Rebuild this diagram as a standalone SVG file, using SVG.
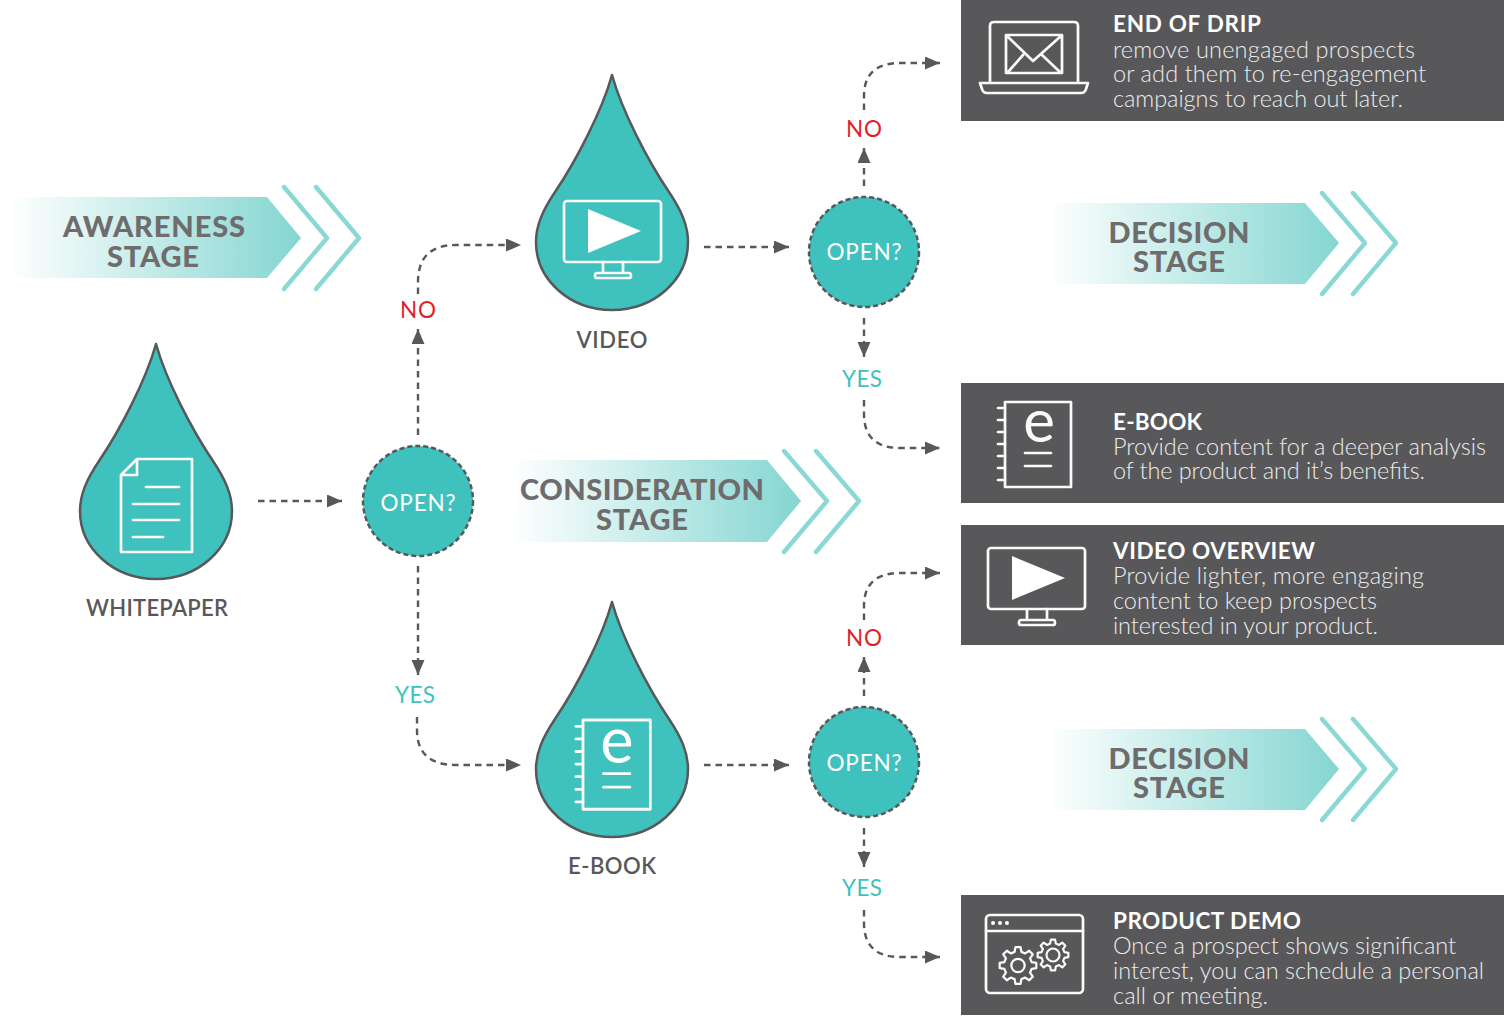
<svg xmlns="http://www.w3.org/2000/svg" width="1511" height="1023" viewBox="0 0 1511 1023">
<style>
text{font-family:Lato,"Liberation Sans",sans-serif}
.drop{fill:#3fc1bd;stroke:#58585a;stroke-width:2.5;stroke-linejoin:round}
.open{fill:#3fc1bd;stroke:#58585a;stroke-width:2.5;stroke-dasharray:5 3}
.opent{font-size:22.5px;fill:#fff;text-anchor:middle}
.lab{font-size:22px;font-weight:600;fill:#58585a;text-anchor:middle}
.no{font-size:22.5px;fill:#e01f2d;text-anchor:middle}
.yes{font-size:22.5px;fill:#3fc1bd;text-anchor:middle}
.panel{fill:#58585a}
.ptitle{font-size:22.5px;font-weight:700;fill:#fff}
.pbody{font-size:23.5px;font-weight:300;fill:#ececec}
.ban{font-size:29px;font-weight:900;fill:#6f6c6e;text-anchor:middle}
.chev{fill:none;stroke:#88d9d4;stroke-width:4.4;stroke-linecap:round;stroke-linejoin:round}
.icon{fill:none;stroke:#fafafa;stroke-width:2.7;stroke-linejoin:round;stroke-linecap:round}
.solid{fill:#fff;stroke:none}
.conn{fill:none;stroke:#58585a;stroke-width:2.4;stroke-dasharray:6.5 5;marker-end:url(#arr)}
</style>
<defs>
<marker id="arr" markerUnits="userSpaceOnUse" markerWidth="16" markerHeight="14" refX="15" refY="6.5" orient="auto"><path d="M0 0L15 6.5L0 13Z" fill="#58585a"/></marker>
<linearGradient id="g1"><stop offset="0" stop-color="#84d6d1" stop-opacity="0.01"/><stop offset="1" stop-color="#84d6d1"/></linearGradient>
<path id="dropshape" class="drop" d="M0 0C10 36 36 86 57 117C69 135 76 150 76 167C76 205 42 235 0 235C-42 235 -76 205 -76 167C-76 150 -69 135 -57 117C-36 86 -10 36 0 0Z"/>
<g id="mon"><rect class="icon" x="0" y="0" width="97" height="61" rx="3"/><path class="solid" d="M24 8V52L77 30Z"/><path class="icon" d="M39 61V72M59 61V72M33 72H65Q67 72 67 75Q67 77 65 77H33Q31 77 31 75Q31 72 33 72Z"/></g>
<g id="book"><rect class="icon" x="0" y="0" width="66" height="85"/><path class="icon" d="M-7 6H0M-7 18H0M-7 30H0M-7 42H0M-7 54H0M-7 66H0M-7 78H0M20 51H46M20 64H46"/></g>
<polygon id="gear" points="7.37,-1.84 9.9,-1.39 9.9,1.39 7.37,1.84 6.51,3.91 7.99,6.02 6.02,7.99 3.91,6.51 1.84,7.37 1.39,9.9 -1.39,9.9 -1.84,7.37 -3.91,6.51 -6.02,7.99 -7.99,6.02 -6.51,3.91 -7.37,1.84 -9.9,1.39 -9.9,-1.39 -7.37,-1.84 -6.51,-3.91 -7.99,-6.02 -6.02,-7.99 -3.91,-6.51 -1.84,-7.37 -1.39,-9.9 1.39,-9.9 1.84,-7.37 3.91,-6.51 6.02,-7.99 7.99,-6.02 6.51,-3.91"/>
</defs>
<g id="connectors">
<path class="conn" d="M258 501H342"/>
<path class="conn" d="M418 435V329"/>
<path class="conn" d="M418 294V282Q418 245 456 245H521"/>
<path class="conn" d="M418 566V675"/>
<path class="conn" d="M417 717V730Q417 765 456 765H521"/>
<path class="conn" d="M704 247H789"/>
<path class="conn" d="M704 765H789"/>
<path class="conn" d="M864 186V148"/>
<path class="conn" d="M864 110V96Q864 63 900 63H940"/>
<path class="conn" d="M864 318V357"/>
<path class="conn" d="M864 400V414Q864 448 900 448H940"/>
<path class="conn" d="M864 696V657"/>
<path class="conn" d="M864 620V606Q864 573 900 573H940"/>
<path class="conn" d="M864 828V867"/>
<path class="conn" d="M864 910V923Q864 957 900 957H940"/>
</g>
<g id="labels">
<text class="no" x="418" y="318" textLength="36">NO</text>
<text class="yes" x="415" y="703" textLength="40">YES</text>
<text class="no" x="864" y="137" textLength="36">NO</text>
<text class="yes" x="862" y="387" textLength="40">YES</text>
<text class="no" x="864" y="646" textLength="36">NO</text>
<text class="yes" x="862" y="896" textLength="40">YES</text>
</g>
<g id="stage-awareness">
<path fill="url(#g1)" d="M12 197H267L301 238L267 278H12Z"/>
<path class="chev" d="M284 187L327 238L284 289M316 187L359 238L316 289"/>
<text class="ban" x="154" y="237" textLength="182">AWARENESS</text>
<text class="ban" x="153" y="267" textLength="92">STAGE</text>
</g>
<g id="stage-consideration">
<path fill="url(#g1)" d="M515 460H767L801 501L767 542H515Z"/>
<path class="chev" d="M784 451L827 501L784 552M816 451L859 501L816 552"/>
<text class="ban" x="642" y="500" textLength="244">CONSIDERATION</text>
<text class="ban" x="642" y="530" textLength="92">STAGE</text>
</g>
<g id="stage-decision-1">
<path fill="url(#g1)" d="M1050 203H1305L1339 243L1305 284H1050Z"/>
<path class="chev" d="M1322 193L1365 243L1322 294M1353 193L1396 243L1353 294"/>
<text class="ban" x="1179" y="243" textLength="141">DECISION</text>
<text class="ban" x="1179" y="272" textLength="92">STAGE</text>
</g>
<g id="stage-decision-2">
<path fill="url(#g1)" d="M1050 729H1305L1339 769L1305 810H1050Z"/>
<path class="chev" d="M1322 719L1365 769L1322 820M1353 719L1396 769L1353 820"/>
<text class="ban" x="1179" y="769" textLength="141">DECISION</text>
<text class="ban" x="1179" y="798" textLength="92">STAGE</text>
</g>
<g id="whitepaper">
<use href="#dropshape" x="156" y="344"/>
<path class="icon" d="M137 459H192V552H121V475ZM137 459V475H121M146 487H179M133 504H179M133 520H179M133 537H163"/>
<text class="lab" x="157" y="616" textLength="142">WHITEPAPER</text>
</g>
<g id="video">
<use href="#dropshape" x="612" y="75"/>
<use href="#mon" x="564" y="201"/>
<text class="lab" x="612" y="348" textLength="71">VIDEO</text>
</g>
<g id="ebook">
<use href="#dropshape" x="612" y="602"/>
<g transform="translate(583 720) scale(1.02 1.05)"><use href="#book"/></g>
<text x="617" y="763" font-size="63" fill="#fff" text-anchor="middle">e</text>
<text class="lab" x="612" y="874" textLength="88">E-BOOK</text>
</g>
<g id="open-1"><circle class="open" cx="418" cy="501" r="55"/><text class="opent" x="418" y="511" textLength="75">OPEN?</text></g>
<g id="open-2"><circle class="open" cx="864" cy="252" r="55"/><text class="opent" x="864" y="260" textLength="75">OPEN?</text></g>
<g id="open-3"><circle class="open" cx="864" cy="762" r="55"/><text class="opent" x="864" y="771" textLength="75">OPEN?</text></g>
<g id="panel-end-of-drip">
<rect class="panel" x="961" y="0" width="543" height="121"/>
<path class="icon" d="M990 83V26Q990 22 994 22H1074Q1078 22 1078 26V83M980 83H1088L1086 89Q1085 93 1081 93H987Q983 93 982 89ZM1006 35H1062V73H1006ZM1007 36L1033 61L1061 36M1008 72L1023 55M1060 72L1042 55"/>
<text class="ptitle" x="1113" y="32" textLength="148">END OF DRIP</text>
<text class="pbody" x="1113" y="58" textLength="302">remove unengaged prospects</text>
<text class="pbody" x="1113" y="82" textLength="313">or add them to re-engagement</text>
<text class="pbody" x="1113" y="107" textLength="290">campaigns to reach out later.</text>
</g>
<g id="panel-ebook">
<rect class="panel" x="961" y="383" width="543" height="120"/>
<use href="#book" x="1005" y="402"/>
<text x="1039" y="442" font-size="60" fill="#fafafa" text-anchor="middle">e</text>
<text class="ptitle" x="1113" y="430" textLength="89">E-BOOK</text>
<text class="pbody" x="1113" y="455" textLength="373">Provide content for a deeper analysis</text>
<text class="pbody" x="1113" y="479" textLength="312">of the product and it’s benefits.</text>
</g>
<g id="panel-video-overview">
<rect class="panel" x="961" y="525" width="543" height="120"/>
<use href="#mon" x="988" y="548"/>
<text class="ptitle" x="1113" y="559" textLength="202">VIDEO OVERVIEW</text>
<text class="pbody" x="1113" y="584" textLength="311">Provide lighter, more engaging</text>
<text class="pbody" x="1113" y="609" textLength="264">content to keep prospects</text>
<text class="pbody" x="1113" y="634" textLength="265">interested in your product.</text>
</g>
<g id="panel-product-demo">
<rect class="panel" x="961" y="895" width="543" height="120"/>
<rect class="icon" x="986" y="915" width="97" height="78" rx="4"/>
<path class="icon" d="M986 931H1083"/>
<path class="solid" d="M991 923a2 2 0 1 0 4 0a2 2 0 1 0-4 0M998 923a2 2 0 1 0 4 0a2 2 0 1 0-4 0M1005 923a2 2 0 1 0 4 0a2 2 0 1 0-4 0"/>
<g transform="translate(1018 965.5) scale(1.85)" fill="none" stroke="#fafafa" stroke-width="1.2" stroke-linejoin="round"><use href="#gear"/><circle r="3.6"/></g>
<g transform="translate(1053 955) scale(1.55)" fill="none" stroke="#fafafa" stroke-width="1.4" stroke-linejoin="round"><use href="#gear"/><circle r="4.2"/></g>
<text class="ptitle" x="1113" y="929" textLength="188">PRODUCT DEMO</text>
<text class="pbody" x="1113" y="954" textLength="343">Once a prospect shows significant</text>
<text class="pbody" x="1113" y="979" textLength="371">interest, you can schedule a personal</text>
<text class="pbody" x="1113" y="1004" textLength="155">call or meeting.</text>
</g>
</svg>
